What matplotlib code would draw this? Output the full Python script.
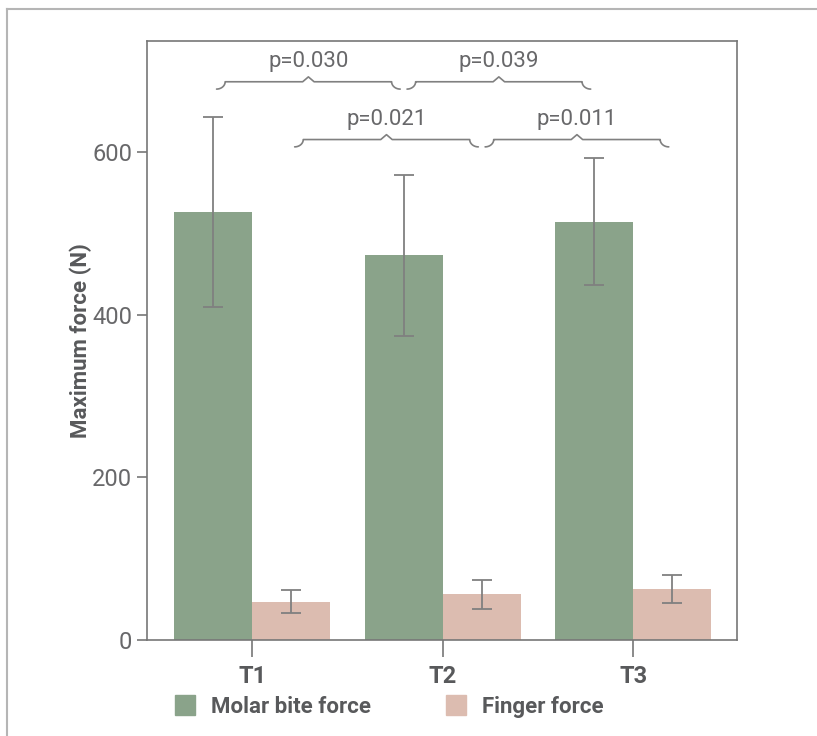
import numpy as np
import matplotlib
matplotlib.use("Agg")
import matplotlib.pyplot as plt
from matplotlib.lines import Line2D
from matplotlib.patches import Patch

plt.rcParams['font.family'] = ['Roboto', 'DejaVu Sans']

# data
times = ['T1', 'T2', 'T3']
molar = [526, 473, 514]
molar_sd = [117, 99, 78]
finger = [47, 56, 63]
finger_sd = [14, 18, 17]

# pairwise comparisons: (series, from idx, to idx, level, label)
comparisons = [
    ('molar', 0, 1, 686, 'p=0.030'),
    ('molar', 1, 2, 686, 'p=0.039'),
    ('finger', 0, 1, 615, 'p=0.021'),
    ('finger', 1, 2, 615, 'p=0.011'),
]

green = '#8aa38a'
pink = '#dcbcb0'
txt = '#58595b'
numc = '#68686a'
grey = '#808080'

fig = plt.figure(figsize=(8.17, 7.36), dpi=100)
ax = fig.add_axes([0.180, 0.1304, 0.722, 0.8138])

x = np.arange(len(times))
w = 0.41
ax.bar(x - w / 2, molar, w, color=green, zorder=2)
ax.bar(x + w / 2, finger, w, color=pink, zorder=2)
ekw = dict(fmt='none', ecolor=grey, elinewidth=1.3, capsize=7, capthick=1.3, zorder=3)
ax.errorbar(x - w / 2, molar, yerr=molar_sd, **ekw)
ax.errorbar(x + w / 2, finger, yerr=finger_sd, **ekw)


def brace(x0, x1, y, label):
    # curly brace drawn in data coords
    x0 += 0.018
    x1 -= 0.018
    h = 9
    dx = 0.045
    xm = (x0 + x1) / 2
    t = np.linspace(0, 1, 12)
    left = np.column_stack([x0 + dx * np.sin(t * np.pi / 2), y - h + h * (1 - np.cos(t * np.pi / 2))])
    right = np.column_stack([x1 - dx * np.sin(t * np.pi / 2), y - h + h * (1 - np.cos(t * np.pi / 2))])[::-1]
    mid = np.array([[xm - 0.03, y], [xm, y + 6], [xm + 0.03, y]])
    pts = np.vstack([left, mid, right])
    ax.plot(pts[:, 0], pts[:, 1], color=grey, lw=1.2, zorder=3, solid_capstyle='round')
    ax.text(xm, y + 25, label, ha='center', va='center', fontsize=16, color=numc)


for series, i0, i1, lev, lab in comparisons:
    off = -w / 2 if series == 'molar' else w / 2
    brace(x[i0] + off, x[i1] + off, lev, lab)

ax.set_xlim(-0.552, 2.545)
ax.set_ylim(0, 736)
ax.set_yticks([0, 200, 400, 600])
ax.set_xticks(x)
ax.set_xticklabels(times, fontsize=17, fontweight='bold', color=txt)
ax.tick_params(axis='y', labelsize=17, labelcolor=numc, color='#777777', length=7, width=1.2)
ax.tick_params(axis='x', color='#777777', length=12, width=1.2, pad=6)
for s in ax.spines.values():
    s.set_color('#777777')
    s.set_linewidth(1.2)
ax.set_ylabel('Maximum force (N)', fontsize=16, fontweight='bold', color=txt)
ax.yaxis.set_label_coords(-0.093, 0.5)

handles = [Patch(color=green, label='Molar bite force'), Patch(color=pink, label='Finger force')]
fig.legend(handles=handles, loc='center left', bbox_to_anchor=(0.19, 0.04), ncol=2,
           frameon=False, handlelength=0.9, handleheight=0.95, handletextpad=0.7,
           columnspacing=3.4, prop={'size': 16, 'weight': 'bold'}, labelcolor=txt)

# outer frame
fig.add_artist(Line2D([0.008, 1.0], [0.988, 0.988], color='#b5b5b5', lw=1.5, transform=fig.transFigure))
fig.add_artist(Line2D([0.008, 0.008], [0.0, 0.988], color='#b5b5b5', lw=1.5, transform=fig.transFigure))

fig.savefig('out.png', dpi=100)
